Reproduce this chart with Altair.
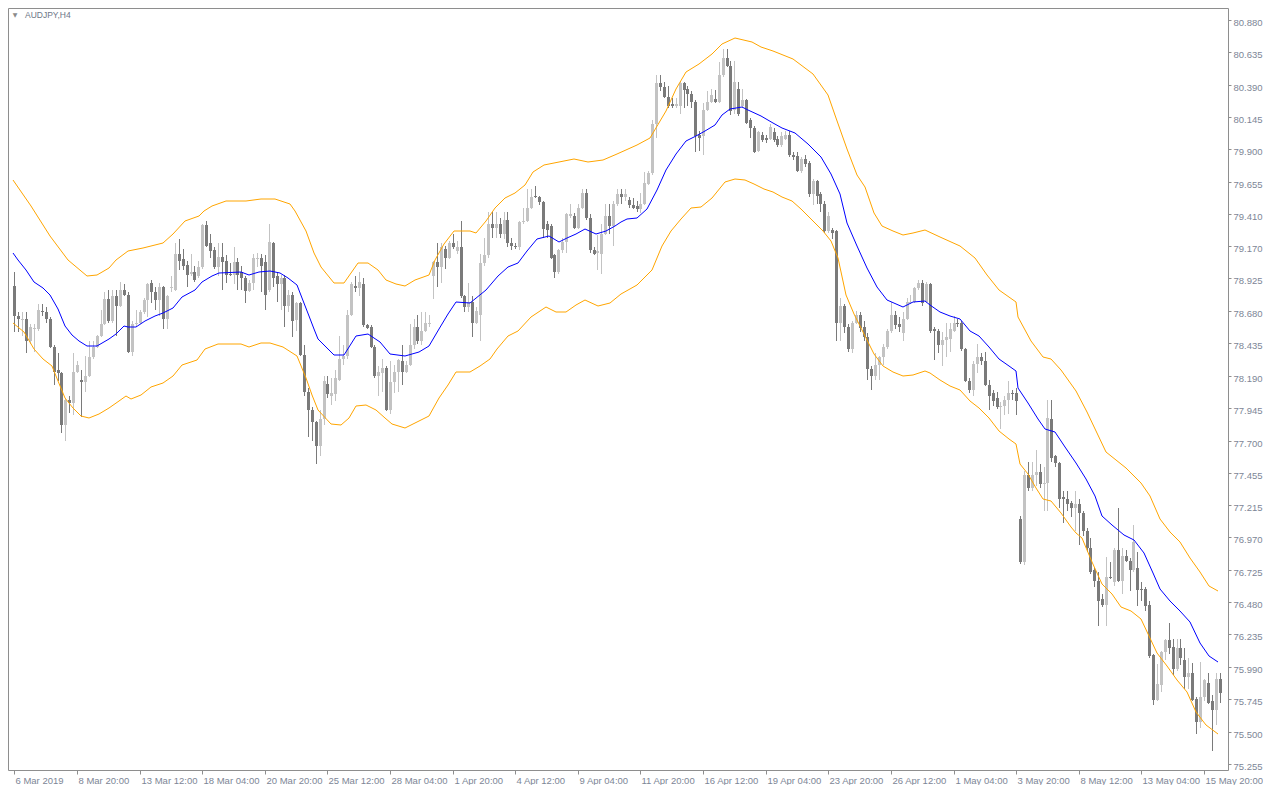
import altair as alt
import pandas as pd

SYMBOL = "AUDJPY,H4"

# ---- candle data (one entry per H4 bar, bar 0 = first bar on the chart) ----
OPEN = [
    78.87, 78.64, 78.61, 78.62, 78.45, 78.54, 78.54, 78.68, 78.67, 78.62,  # 0
    78.41, 78.23, 78.21, 77.82, 78.01, 77.98, 78.22, 78.16, 78.14, 78.19,  # 10
    78.33, 78.41, 78.49, 78.58, 78.77, 78.60, 78.79, 78.72, 78.84, 78.80,  # 20
    78.37, 78.58, 78.59, 78.67, 78.76, 78.89, 78.82, 78.76, 78.86, 78.62,  # 30
    78.85, 78.84, 79.11, 79.07, 79.03, 78.96, 78.97, 78.94, 79.01, 79.33,  # 40
    79.19, 79.14, 79.01, 79.09, 79.06, 78.96, 78.95, 79.05, 78.97, 78.93,  # 50
    78.83, 78.89, 79.07, 79.08, 79.05, 78.84, 79.19, 78.94, 78.88, 78.93,  # 60
    78.72, 78.80, 78.61, 78.74, 78.35, 78.07, 77.93, 77.84, 77.66, 77.86,  # 70
    78.13, 78.04, 78.05, 78.16, 78.32, 78.34, 78.65, 78.87, 78.85, 78.88,  # 80
    78.57, 78.56, 78.41, 78.19, 78.21, 78.25, 77.93, 78.14, 78.22, 78.30,  # 90
    78.22, 78.27, 78.42, 78.56, 78.45, 78.53, 78.58, 78.94, 79.05, 79.01,  # 100
    79.15, 79.08, 79.19, 79.13, 79.16, 78.79, 78.71, 78.75, 78.59, 78.65,  # 110
    79.04, 79.10, 79.34, 79.31, 79.34, 79.26, 79.37, 79.19, 79.17, 79.16,  # 120
    79.35, 79.36, 79.46, 79.55, 79.54, 79.50, 79.34, 79.32, 79.10, 78.97,  # 130
    79.14, 79.20, 79.40, 79.40, 79.31, 79.46, 79.57, 79.38, 79.14, 79.12,  # 140
    79.11, 79.26, 79.40, 79.32, 79.49, 79.56, 79.54, 79.52, 79.48, 79.47,  # 150
    79.45, 79.49, 79.64, 79.72, 80.09, 80.40, 80.37, 80.30, 80.24, 80.23,  # 160
    80.23, 80.40, 80.36, 80.32, 80.26, 80.01, 80.00, 80.20, 80.26, 80.28,  # 170
    80.26, 80.46, 80.59, 80.53, 80.20, 80.36, 80.23, 80.27, 80.12, 80.06,  # 180
    79.89, 80.01, 79.99, 79.98, 80.03, 79.98, 79.93, 79.98, 80.01, 79.86,  # 190
    79.85, 79.74, 79.83, 79.80, 79.56, 79.66, 79.56, 79.49, 79.28, 79.29,  # 200
    79.28, 78.59, 78.72, 78.56, 78.39, 78.59, 78.65, 78.56, 78.48, 78.24,  # 210
    78.19, 78.27, 78.33, 78.41, 78.53, 78.65, 78.58, 78.51, 78.62, 78.74,  # 220
    78.75, 78.85, 78.89, 78.75, 78.88, 78.54, 78.53, 78.42, 78.46, 78.47,  # 230
    78.53, 78.59, 78.59, 78.39, 78.15, 78.08, 78.28, 78.33, 78.30, 78.12,  # 240
    78.06, 78.02, 77.95, 77.96, 78.01, 78.06, 78.06, 77.11, 76.78, 77.44,  # 250
    77.34, 77.44, 77.46, 77.37, 77.38, 77.86, 77.58, 77.53, 77.27, 77.26,  # 260
    77.23, 77.19, 77.22, 77.15, 77.02, 76.89, 76.72, 76.64, 76.50, 76.46,  # 270
    76.67, 76.63, 76.87, 76.64, 76.83, 76.79, 76.72, 76.74, 76.58, 76.58,  # 280
    76.46, 76.08, 75.74, 75.85, 76.10, 76.19, 76.14, 75.97, 76.13, 76.04,  # 290
    75.91, 75.94, 75.75, 75.57, 75.76, 75.87, 75.73, 75.66, 75.90,         # 300
]
HIGH = [
    78.97, 78.67, 78.67, 78.67, 78.58, 78.58, 78.73, 78.73, 78.71, 78.63,
    78.42, 78.36, 78.22, 78.02, 78.04, 78.36, 78.30, 78.23, 78.34, 78.45,
    78.45, 78.50, 78.69, 78.82, 78.84, 78.84, 78.84, 78.90, 78.88, 78.82,
    78.60, 78.69, 78.69, 78.78, 78.89, 78.91, 78.86, 78.89, 78.87, 78.80,
    78.94, 79.19, 79.22, 79.15, 79.06, 79.11, 79.02, 79.06, 79.34, 79.36,
    79.26, 79.16, 79.19, 79.19, 79.10, 79.04, 79.16, 79.08, 79.02, 78.94,
    78.91, 79.11, 79.12, 79.11, 79.10, 79.34, 79.20, 78.97, 78.95, 78.95,
    78.84, 78.82, 78.75, 78.75, 78.42, 78.10, 77.95, 77.85, 77.93, 78.19,
    78.19, 78.17, 78.23, 78.49, 78.42, 78.69, 78.90, 78.94, 78.97, 78.93,
    78.58, 78.57, 78.42, 78.26, 78.32, 78.26, 78.30, 78.27, 78.32, 78.42,
    78.30, 78.58, 78.62, 78.65, 78.67, 78.67, 78.65, 79.06, 79.19, 79.19,
    79.17, 79.21, 79.26, 79.21, 79.36, 78.80, 78.89, 78.79, 78.71, 79.11,
    79.23, 79.43, 79.43, 79.43, 79.38, 79.43, 79.43, 79.23, 79.19, 79.36,
    79.46, 79.60, 79.60, 79.62, 79.55, 79.51, 79.36, 79.34, 79.11, 79.15,
    79.23, 79.42, 79.49, 79.42, 79.49, 79.60, 79.60, 79.41, 79.16, 79.25,
    79.34, 79.49, 79.49, 79.51, 79.60, 79.60, 79.60, 79.54, 79.53, 79.51,
    79.57, 79.73, 79.74, 80.12, 80.46, 80.46, 80.41, 80.38, 80.29, 80.29,
    80.42, 80.41, 80.38, 80.34, 80.27, 80.04, 80.25, 80.34, 80.36, 80.35,
    80.56, 80.66, 80.66, 80.57, 80.57, 80.41, 80.36, 80.28, 80.14, 80.08,
    80.04, 80.03, 80.01, 80.09, 80.06, 80.00, 80.03, 80.04, 80.04, 79.88,
    79.88, 79.84, 79.86, 79.81, 79.68, 79.67, 79.58, 79.51, 79.43, 79.31,
    79.29, 78.78, 78.73, 78.58, 78.60, 78.68, 78.67, 78.60, 78.51, 78.26,
    78.36, 78.34, 78.43, 78.54, 78.75, 78.68, 78.63, 78.67, 78.78, 78.80,
    78.86, 78.91, 78.91, 78.90, 78.89, 78.56, 78.54, 78.52, 78.59, 78.59,
    78.64, 78.62, 78.60, 78.40, 78.17, 78.30, 78.43, 78.36, 78.37, 78.16,
    78.08, 78.07, 77.99, 78.04, 78.15, 78.08, 78.10, 77.13, 77.47, 77.54,
    77.54, 77.63, 77.52, 77.50, 78.01, 78.01, 77.59, 77.54, 77.32, 77.32,
    77.24, 77.32, 77.26, 77.17, 77.04, 76.96, 76.74, 76.71, 76.54, 76.82,
    76.78, 76.89, 77.19, 76.89, 76.87, 76.81, 77.06, 76.86, 76.63, 76.59,
    76.49, 76.09, 76.01, 76.11, 76.20, 76.32, 76.20, 76.20, 76.20, 76.13,
    76.06, 76.02, 75.76, 76.03, 75.90, 75.94, 75.78, 75.94, 75.94,
]
LOW = [
    78.52, 78.52, 78.49, 78.36, 78.43, 78.37, 78.53, 78.64, 78.59, 78.40,
    78.12, 78.15, 77.76, 77.70, 77.91, 77.89, 78.21, 77.88, 78.07, 78.18,
    78.32, 78.40, 78.48, 78.57, 78.59, 78.59, 78.49, 78.71, 78.79, 78.36,
    78.34, 78.56, 78.58, 78.66, 78.63, 78.74, 78.69, 78.64, 78.54, 78.54,
    78.82, 78.83, 78.99, 78.99, 78.86, 78.94, 78.90, 78.93, 79.00, 79.16,
    79.08, 79.00, 78.94, 78.84, 78.89, 78.94, 78.88, 78.84, 78.84, 78.74,
    78.82, 78.84, 79.01, 78.82, 78.69, 78.82, 78.86, 78.75, 78.69, 78.56,
    78.67, 78.48, 78.53, 78.34, 78.04, 77.73, 77.70, 77.52, 77.58, 77.82,
    78.02, 77.97, 78.00, 78.15, 78.27, 78.32, 78.64, 78.82, 78.79, 78.56,
    78.54, 78.40, 78.17, 78.04, 78.07, 77.92, 77.90, 78.06, 78.07, 78.12,
    78.21, 78.26, 78.39, 78.43, 78.42, 78.52, 78.56, 78.77, 78.86, 78.89,
    79.00, 79.07, 79.15, 79.11, 78.78, 78.67, 78.67, 78.48, 78.58, 78.45,
    79.02, 79.08, 79.23, 79.23, 79.23, 79.22, 79.16, 79.14, 79.15, 79.14,
    79.34, 79.35, 79.45, 79.53, 79.48, 79.23, 79.23, 79.07, 78.93, 78.96,
    79.12, 79.12, 79.38, 79.30, 79.30, 79.45, 79.37, 79.12, 79.10, 78.99,
    78.96, 79.25, 79.26, 79.17, 79.47, 79.49, 79.51, 79.46, 79.45, 79.43,
    79.42, 79.48, 79.63, 79.71, 79.99, 80.34, 80.29, 80.21, 80.21, 80.21,
    80.17, 80.21, 80.23, 80.21, 79.88, 79.89, 79.86, 80.19, 80.25, 80.25,
    80.25, 80.45, 80.52, 80.16, 80.17, 80.15, 80.21, 80.09, 79.99, 79.87,
    79.88, 79.96, 79.95, 79.97, 79.96, 79.92, 79.92, 79.97, 79.84, 79.82,
    79.73, 79.72, 79.77, 79.54, 79.48, 79.49, 79.43, 79.27, 79.27, 79.22,
    78.45, 78.45, 78.51, 78.37, 78.36, 78.58, 78.52, 78.45, 78.16, 78.08,
    78.16, 78.16, 78.27, 78.39, 78.51, 78.54, 78.52, 78.45, 78.61, 78.73,
    78.74, 78.84, 78.72, 78.74, 78.51, 78.31, 78.36, 78.26, 78.33, 78.37,
    78.52, 78.56, 78.38, 78.14, 78.06, 78.04, 78.21, 78.27, 78.11, 77.93,
    77.96, 77.94, 77.79, 77.89, 77.90, 78.01, 77.89, 76.77, 76.76, 77.32,
    77.32, 77.36, 77.34, 77.17, 77.17, 77.54, 77.50, 77.19, 77.08, 77.17,
    77.12, 77.02, 76.91, 76.98, 76.86, 76.69, 76.59, 76.30, 76.44, 76.30,
    76.65, 76.60, 76.63, 76.54, 76.78, 76.56, 76.71, 76.45, 76.49, 76.41,
    76.06, 75.70, 75.73, 75.80, 76.04, 76.09, 75.93, 75.96, 76.00, 75.82,
    75.82, 75.73, 75.48, 75.53, 75.73, 75.71, 75.35, 75.55, 75.72,
]
CLOSE = [
    78.64, 78.62, 78.62, 78.45, 78.56, 78.55, 78.69, 78.67, 78.62, 78.41,
    78.22, 78.21, 77.82, 78.01, 77.98, 78.22, 78.27, 78.14, 78.19, 78.33,
    78.41, 78.49, 78.58, 78.77, 78.60, 78.79, 78.72, 78.84, 78.80, 78.37,
    78.58, 78.59, 78.67, 78.76, 78.88, 78.82, 78.76, 78.86, 78.62, 78.79,
    78.86, 79.11, 79.06, 79.02, 78.95, 78.97, 78.91, 79.01, 79.33, 79.17,
    79.13, 79.01, 79.09, 79.05, 78.95, 78.95, 79.05, 78.95, 78.93, 78.83,
    78.89, 79.08, 79.08, 79.02, 78.80, 79.20, 78.93, 78.88, 78.93, 78.72,
    78.80, 78.60, 78.74, 78.35, 78.07, 77.93, 77.84, 77.66, 77.86, 78.15,
    78.05, 78.06, 78.17, 78.32, 78.34, 78.65, 78.88, 78.85, 78.90, 78.57,
    78.55, 78.41, 78.19, 78.22, 78.25, 77.93, 78.14, 78.22, 78.31, 78.22,
    78.27, 78.42, 78.56, 78.45, 78.53, 78.59, 78.59, 79.05, 79.01, 79.16,
    79.08, 79.19, 79.16, 79.16, 78.79, 78.71, 78.75, 78.59, 78.68, 79.04,
    79.10, 79.34, 79.31, 79.34, 79.26, 79.37, 79.19, 79.17, 79.16, 79.35,
    79.36, 79.46, 79.54, 79.54, 79.50, 79.30, 79.29, 79.08, 78.97, 79.14,
    79.20, 79.41, 79.41, 79.31, 79.46, 79.57, 79.38, 79.14, 79.11, 79.13,
    79.26, 79.40, 79.32, 79.49, 79.56, 79.54, 79.56, 79.48, 79.46, 79.45,
    79.49, 79.65, 79.72, 80.09, 80.40, 80.37, 80.30, 80.23, 80.23, 80.24,
    80.40, 80.35, 80.32, 80.26, 80.00, 79.99, 80.20, 80.26, 80.31, 80.26,
    80.46, 80.59, 80.53, 80.19, 80.41, 80.17, 80.27, 80.10, 80.06, 79.88,
    80.03, 79.97, 79.97, 80.07, 79.97, 79.93, 80.00, 80.01, 79.86, 79.84,
    79.74, 79.83, 79.79, 79.56, 79.66, 79.55, 79.49, 79.28, 79.40, 79.27,
    78.59, 78.72, 78.56, 78.39, 78.59, 78.65, 78.55, 78.48, 78.24, 78.19,
    78.27, 78.33, 78.41, 78.53, 78.65, 78.57, 78.56, 78.62, 78.75, 78.75,
    78.85, 78.89, 78.74, 78.88, 78.53, 78.53, 78.42, 78.46, 78.48, 78.54,
    78.59, 78.58, 78.39, 78.15, 78.08, 78.28, 78.33, 78.30, 78.12, 78.04,
    78.00, 77.95, 77.96, 78.01, 78.06, 78.05, 78.00, 76.78, 77.44, 77.34,
    77.44, 77.46, 77.37, 77.38, 77.87, 77.57, 77.53, 77.26, 77.26, 77.22,
    77.19, 77.22, 77.15, 77.02, 76.89, 76.71, 76.64, 76.49, 76.46, 76.67,
    76.66, 76.87, 76.64, 76.83, 76.79, 76.72, 76.93, 76.57, 76.57, 76.45,
    76.07, 75.74, 75.86, 76.10, 76.19, 76.13, 75.97, 76.13, 76.06, 75.91,
    75.94, 75.74, 75.57, 75.76, 75.89, 75.72, 75.66, 75.90, 75.79,
]

# ---- indicator lines (bar position, price) ----
MA_BAR = [-0.4, 0.9, 2.9, 4.9, 7.4, 9.1, 11.1, 12.9, 14.6, 16.6, 18.6, 21.1, 24.1, 25.9, 27.9, 29.1, 31.1,
          33.4, 35.9, 37.9, 40.4, 42.9, 46.1, 47.9, 50.4, 52.4, 57.9, 59.9, 62.4, 65.4, 67.9, 69.9, 72.1,
          73.6, 75.4, 76.6, 77.6, 78.4, 81.6, 84.1, 87.4, 90.4, 93.4, 95.9, 99.9, 103.4, 105.9, 108.4,
          110.9, 112.9, 116.4, 120.4, 123.6, 126.1, 128.6, 131.1, 133.6, 136.6, 139.1, 141.1, 143.6,
          145.9, 148.6, 151.1, 153.6, 155.1, 156.6, 159.1, 161.6, 164.1, 166.6, 169.1, 171.6, 174.1,
          176.6, 179.1, 180.9, 182.9, 185.9, 187.4, 190.9, 193.9, 196.1, 199.6, 202.9, 206.1, 208.6,
          210.9, 212.9, 215.4, 217.9, 220.4, 222.9, 227.1, 229.6, 232.6, 234.1, 236.6, 239.1, 241.6,
          244.1, 246.6, 249.1, 251.6, 254.1, 255.9, 256.6, 259.1, 261.6, 263.4, 265.9, 268.4, 271.4,
          273.8, 276.1, 277.9, 280.4, 283.6, 286.1, 288.6, 290.9, 292.9, 295.4, 297.9, 300.4, 302.9,
          305.4, 307.6]
MA_PRICE = [79.121, 79.062, 78.988, 78.899, 78.854, 78.802, 78.691, 78.565, 78.498, 78.454, 78.416, 78.416,
            78.468, 78.505, 78.565, 78.557, 78.557, 78.602, 78.639, 78.661, 78.705, 78.787, 78.839, 78.899,
            78.943, 78.965, 78.973, 78.951, 78.973, 78.980, 78.965, 78.928, 78.876, 78.780, 78.639, 78.542,
            78.468, 78.446, 78.350, 78.350, 78.490, 78.505, 78.446, 78.357, 78.342, 78.372, 78.416, 78.542,
            78.654, 78.750, 78.743, 78.839, 78.943, 79.010, 79.039, 79.136, 79.225, 79.247, 79.203, 79.232,
            79.262, 79.299, 79.262, 79.285, 79.322, 79.351, 79.373, 79.381, 79.448, 79.596, 79.745, 79.863,
            79.967, 80.004, 80.041, 80.086, 80.160, 80.205, 80.220, 80.197, 80.153, 80.101, 80.064, 80.027,
            79.938, 79.841, 79.715, 79.567, 79.344, 79.173, 79.003, 78.862, 78.765, 78.713, 78.750, 78.758,
            78.728, 78.668, 78.639, 78.617, 78.528, 78.490, 78.409, 78.320, 78.260, 78.223, 78.097, 77.986,
            77.860, 77.785, 77.763, 77.652, 77.533, 77.407, 77.281, 77.132, 77.058, 76.984, 76.947, 76.850,
            76.702, 76.576, 76.487, 76.413, 76.331, 76.168, 76.071, 76.027]

UP_BAR = [-0.4, 4.1, 9.1, 13.6, 18.6, 21.1, 24.1, 25.9, 29.1, 32.9, 37.9, 40.4, 43.6, 47.1, 48.4, 50.4, 54.1,
          59.1, 62.9, 66.6, 70.4, 71.6, 74.6, 76.6, 78.4, 81.6, 84.1, 85.9, 87.9, 90.4, 92.9, 94.9, 97.4,
          99.9, 102.4, 105.9, 107.4, 109.9, 112.4, 116.4, 117.9, 120.4, 122.9, 125.4, 127.9, 130.4, 132.4,
          135.4, 139.1, 142.9, 146.6, 150.4, 154.1, 159.1, 162.4, 166.6, 169.1, 171.6, 174.9, 178.4, 180.9,
          184.1, 188.4, 190.9, 193.9, 199.1, 204.1, 207.9, 209.9, 212.9, 215.4, 217.4, 219.6, 221.6, 224.6,
          227.1, 229.6, 232.6, 236.6, 241.6, 245.4, 248.6, 251.6, 255.9, 256.6, 259.9, 262.9, 264.9, 267.4,
          271.4, 274.1, 279.1, 284.1, 287.9, 290.1, 292.9, 295.4, 297.9, 300.4, 302.9, 305.4, 307.6]
UP_PRICE = [79.670, 79.470, 79.247, 79.062, 78.943, 78.951, 79.003, 79.062, 79.136, 79.158, 79.195, 79.262,
            79.359, 79.396, 79.433, 79.470, 79.507, 79.507, 79.522, 79.529, 79.485, 79.433, 79.285, 79.114,
            79.010, 78.891, 78.891, 78.965, 79.039, 79.039, 78.988, 78.914, 78.884, 78.869, 78.914, 78.951,
            79.062, 79.188, 79.285, 79.285, 79.270, 79.359, 79.455, 79.530, 79.574, 79.633, 79.730, 79.782,
            79.804, 79.826, 79.804, 79.819, 79.863, 79.930, 79.990, 80.190, 80.360, 80.487, 80.546, 80.620,
            80.694, 80.739, 80.709, 80.672, 80.643, 80.583, 80.472, 80.308, 80.138, 79.900, 79.707, 79.618,
            79.418, 79.322, 79.285, 79.255, 79.270, 79.292, 79.240, 79.173, 79.077, 78.951, 78.839, 78.750,
            78.632, 78.454, 78.335, 78.320, 78.231, 78.075, 77.912, 77.615, 77.489, 77.378, 77.281, 77.110,
            77.006, 76.932, 76.813, 76.709, 76.598, 76.561]

LO_BAR = [-0.4, 2.4, 4.9, 7.4, 9.6, 11.1, 12.9, 14.9, 17.1, 19.1, 21.6, 24.1, 26.6, 28.4, 29.9, 32.4, 34.9,
          37.9, 40.4, 42.9, 46.6, 48.6, 52.1, 57.9, 59.9, 62.9, 65.4, 68.6, 72.1, 74.6, 76.1, 77.6, 80.9,
          83.4, 85.4, 87.4, 89.9, 92.4, 94.6, 96.6, 99.9, 103.4, 105.9, 108.4, 110.9, 112.9, 116.4, 119.1,
          121.6, 123.4, 126.1, 128.6, 132.1, 135.9, 138.4, 140.9, 143.4, 145.9, 149.1, 152.1, 155.1, 159.1,
          162.9, 165.4, 167.9, 170.4, 172.9, 175.4, 178.4, 181.6, 184.1, 186.6, 189.1, 191.6, 193.9, 196.1,
          198.6, 201.1, 203.6, 206.6, 208.6, 210.4, 212.4, 214.6, 217.1, 219.6, 222.1, 224.6, 227.1, 229.6,
          232.6, 234.1, 236.6, 239.1, 241.6, 244.1, 246.6, 249.1, 251.6, 254.1, 255.9, 257.1, 259.1, 261.1,
          262.9, 264.9, 267.4, 269.9, 271.4, 272.9, 275.4, 277.9, 280.4, 282.9, 285.4, 287.9, 289.9, 292.1,
          294.6, 297.1, 299.6, 302.1, 304.6, 307.6]
LO_PRICE = [78.585, 78.520, 78.394, 78.320, 78.261, 78.150, 78.023, 77.949, 77.889, 77.867, 77.897, 77.949,
            78.001, 78.038, 78.016, 78.045, 78.105, 78.134, 78.186, 78.268, 78.305, 78.394, 78.431, 78.431,
            78.409, 78.438, 78.438, 78.409, 78.342, 78.172, 78.045, 77.934, 77.822, 77.815, 77.874, 77.964,
            77.971, 77.934, 77.874, 77.822, 77.793, 77.845, 77.882, 78.023, 78.119, 78.216, 78.216, 78.261,
            78.320, 78.394, 78.490, 78.528, 78.632, 78.713, 78.668, 78.668, 78.728, 78.765, 78.720, 78.743,
            78.809, 78.876, 78.988, 79.173, 79.285, 79.373, 79.455, 79.463, 79.530, 79.656, 79.678, 79.670,
            79.641, 79.604, 79.581, 79.544, 79.507, 79.448, 79.374, 79.285, 79.210, 79.077, 78.802, 78.654,
            78.505, 78.357, 78.260, 78.216, 78.186, 78.194, 78.223, 78.208, 78.156, 78.112, 78.082, 78.001,
            77.949, 77.874, 77.771, 77.711, 77.674, 77.526, 77.444, 77.340, 77.259, 77.244, 77.155, 77.044,
            76.999, 76.962, 76.785, 76.613, 76.539, 76.442, 76.413, 76.353, 76.219, 76.093, 75.997, 75.893,
            75.797, 75.648, 75.551, 75.485]

# ---- axis labels ----
DATE_TICKS = [0, 16, 32, 48, 64, 80, 96, 112, 128, 144, 160, 176, 192, 208, 224, 240, 256, 272, 288, 304]
DATE_LABELS = ["6 Mar 2019", "8 Mar 20:00", "13 Mar 12:00", "18 Mar 04:00", "20 Mar 20:00",
               "25 Mar 12:00", "28 Mar 04:00", "1 Apr 20:00", "4 Apr 12:00", "9 Apr 04:00",
               "11 Apr 20:00", "16 Apr 12:00", "19 Apr 04:00", "23 Apr 20:00", "26 Apr 12:00",
               "1 May 04:00", "3 May 20:00", "8 May 12:00", "13 May 04:00", "15 May 20:00"]
PRICE_TICKS = [80.880, 80.635, 80.390, 80.145, 79.900, 79.655, 79.410, 79.170, 78.925, 78.680,
               78.435, 78.190, 77.945, 77.700, 77.455, 77.215, 76.970, 76.725, 76.480, 76.235,
               75.990, 75.745, 75.500, 75.255]

# ---- build chart ----
n = len(CLOSE)
candles = pd.DataFrame({"bar": list(range(n)), "open": OPEN, "high": HIGH, "low": LOW, "close": CLOSE})
candles["dir"] = ["up" if c > o else "down" for o, c in zip(OPEN, CLOSE)]
ma_df = pd.DataFrame({"bar": MA_BAR, "price": MA_PRICE})
up_df = pd.DataFrame({"bar": UP_BAR, "price": UP_PRICE})
lo_df = pd.DataFrame({"bar": LO_BAR, "price": LO_PRICE})

FONT = "Liberation Sans"
TEXT_COLOR = "#7d8696"
FRAME = "#8e8e8e"

label_expr = "[" + ",".join("'" + s + "'" for s in DATE_LABELS) + "][round(datum.value / 16)]"

x_scale = alt.Scale(domain=[-0.375, 308.875], nice=False, zero=False, round=True)
y_scale = alt.Scale(domain=[75.21, 80.969], nice=False, zero=False, round=True)

x_axis = alt.Axis(values=DATE_TICKS, labelExpr=label_expr, orient="bottom", title=None, grid=False,
                  domain=False, tickSize=4, tickColor=FRAME, labelAlign="left", labelBaseline="top",
                  labelPadding=1, labelOffset=1, labelFont=FONT, labelFontSize=9.5, labelColor=TEXT_COLOR,
                  labelOverlap=False, labelFlush=False)
y_axis = alt.Axis(values=PRICE_TICKS, format=".3f", orient="right", title=None, grid=False, domain=False,
                  tickSize=3, tickColor=FRAME, labelPadding=2, labelBaseline="middle", labelOffset=2,
                  labelFont=FONT, labelFontSize=9.5, labelColor=TEXT_COLOR, labelOverlap=False,
                  labelFlush=False)


def X(field):
    return alt.X(f"{field}:Q", scale=x_scale, axis=x_axis)


def Y(field):
    return alt.Y(f"{field}:Q", scale=y_scale, axis=y_axis)


color = alt.Color("dir:N", scale=alt.Scale(domain=["up", "down"], range=["#c3c3c3", "#7a7a7a"]), legend=None)

wicks = alt.Chart(candles).mark_rule(strokeWidth=1, xOffset=0.5).encode(
    x=X("bar"), y=Y("low"), y2="high", color=color)
bodies = alt.Chart(candles).mark_bar(size=3, xOffset=0.5).encode(
    x=X("bar"), y=Y("open"), y2="close", color=color)

ma_line = alt.Chart(ma_df).mark_line(color="#0000ff", strokeWidth=1, clip=True).encode(
    x=X("bar"), y=Y("price"))
up_line = alt.Chart(up_df).mark_line(color="#ffa500", strokeWidth=1, clip=True).encode(
    x=X("bar"), y=Y("price"))
lo_line = alt.Chart(lo_df).mark_line(color="#ffa500", strokeWidth=1, clip=True).encode(
    x=X("bar"), y=Y("price"))

title_df = pd.DataFrame({"t": [SYMBOL], "tri": ["\u25bc"]})
tri = alt.Chart(title_df).mark_text(font="DejaVu Sans", fontSize=6, color="#8a8a8a", align="center",
                                    baseline="middle").encode(
    text="tri:N", x=alt.value(7), y=alt.value(7))
sym = alt.Chart(title_df).mark_text(font=FONT, fontSize=8.5, color="#6e7686", align="left",
                                    baseline="middle").encode(
    text="t:N", x=alt.value(17), y=alt.value(7))

chart = alt.layer(wicks, bodies, up_line, lo_line, ma_line, tri, sym).properties(
    width=1220, height=762, padding=0, background="white"
).configure_view(stroke=FRAME, strokeWidth=1)

chart.save("out.html", embed_options={"renderer": "svg", "actions": False})
